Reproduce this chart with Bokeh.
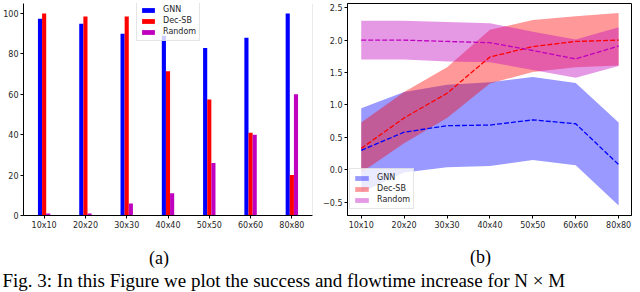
from bokeh.plotting import figure
from bokeh.models import (FactorRange, Range1d, FixedTicker, Label, Legend, LegendItem,
                          Span, CustomJSTickFormatter, ColumnDataSource)
from bokeh.layouts import row, column
from bokeh.transform import dodge
from bokeh.embed import file_html
from bokeh.resources import INLINE

# ---------------- data ----------------
categories = ["10x10", "20x20", "30x30", "40x40", "50x50", "60x60", "80x80"]

# (a) success rate bars
bar_gnn = [97.5, 95, 90, 89, 83, 88, 100]
bar_decsb = [100, 98.5, 98.5, 71.5, 57.5, 41, 20]
bar_random = [1, 1, 6, 11, 26, 40, 60]
yticks_a = [0, 20, 40, 60, 80, 100]

# (b) flowtime increase: mean and band
gnn_mean = [0.30, 0.58, 0.68, 0.69, 0.77, 0.71, 0.08]
gnn_lo = [-0.35, -0.04, 0.04, 0.06, 0.15, 0.07, -0.55]
gnn_hi = [0.95, 1.20, 1.31, 1.35, 1.43, 1.34, 0.73]

decsb_mean = [0.33, 0.80, 1.18, 1.74, 1.90, 1.98, 2.00]
decsb_lo = [-0.04, 0.41, 0.80, 1.33, 1.51, 1.58, 1.61]
decsb_hi = [0.73, 1.20, 1.58, 2.16, 2.31, 2.37, 2.42]

random_mean = [2.00, 2.00, 1.98, 1.96, 1.84, 1.71, 1.91]
random_lo = [1.70, 1.70, 1.67, 1.66, 1.54, 1.42, 1.60]
random_hi = [2.30, 2.30, 2.28, 2.26, 2.13, 2.01, 2.20]
yticks_b = [-0.5, 0.0, 0.5, 1.0, 1.5, 2.0, 2.5]

series_names = ["GNN", "Dec-SB", "Random"]
caption_a = "(a)"
caption_b = "(b)"
caption = "Fig. 3: In this Figure we plot the success and flowtime increase for N \u00d7 M"

BLUE, RED, MAG = "#0000ff", "#ff0000", "#bf00bf"
TXT = "#262626"
PAD = "\u2003"  # em space: nudges the centred sub-caption a little to the left


def style_axes(p):
    for ax in p.axis:
        ax.major_tick_out = 3
        ax.major_tick_in = 0
        ax.minor_tick_out = 0
        ax.minor_tick_in = 0
        ax.major_label_standoff = 2
        ax.major_label_text_font = "DejaVu Sans"
        ax.major_label_text_font_size = "8px"
        ax.major_label_text_color = TXT
        ax.axis_line_color = "black"
        ax.major_tick_line_color = "black"


def style_caption_axis(ax, text, standoff):
    ax.axis_label = text + PAD
    ax.axis_label_text_font = "Liberation Serif"
    ax.axis_label_text_font_size = "18px"
    ax.axis_label_text_font_style = "normal"
    ax.axis_label_text_color = "black"
    ax.axis_label_standoff = standoff


def style_legend(lg):
    lg.border_line_color = "#cccccc"
    lg.border_line_width = 1
    lg.background_fill_color = "white"
    lg.background_fill_alpha = 0.8
    lg.padding = 3
    lg.spacing = 0
    lg.margin = 0
    lg.label_height = 11
    lg.label_standoff = 7
    lg.glyph_width = 16
    lg.glyph_height = 6
    lg.label_text_font = "DejaVu Sans"
    lg.label_text_font_size = "8px"
    lg.label_text_color = TXT


# ---------------- (a) bars ----------------
pa = figure(x_range=FactorRange(*categories), y_range=Range1d(0, 105),
            width=320, height=270, output_backend="svg", toolbar_location=None,
            min_border_left=21, min_border_right=8, min_border_top=0, min_border_bottom=54)
pa.outline_line_color = None
pa.grid.visible = False
pa.background_fill_color = "white"

src_a = ColumnDataSource(dict(cat=categories, gnn=bar_gnn, dec=bar_decsb, rnd=bar_random))
ra1 = pa.vbar(x=dodge("cat", -0.1, range=pa.x_range), top="gnn", width=0.1, source=src_a,
              fill_color=BLUE, line_color=None)
ra2 = pa.vbar(x=dodge("cat", 0.0, range=pa.x_range), top="dec", width=0.1, source=src_a,
              fill_color=RED, line_color=None)
ra3 = pa.vbar(x=dodge("cat", 0.1, range=pa.x_range), top="rnd", width=0.1, source=src_a,
              fill_color=MAG, line_color=None)
pa.yaxis.ticker = FixedTicker(ticks=yticks_a)
style_axes(pa)
style_caption_axis(pa.xaxis[0], caption_a, 15)
pa.add_layout(Span(location=len(categories), dimension="height", line_color="#d6d6d6", line_width=1))

lga = Legend(items=[LegendItem(label=series_names[0], renderers=[ra1]),
                    LegendItem(label=series_names[1], renderers=[ra2]),
                    LegendItem(label=series_names[2], renderers=[ra3])],
             location=(113, 174))
style_legend(lga)
pa.add_layout(lga)

# ---------------- (b) bands ----------------
xs = list(range(len(categories)))
src_b = ColumnDataSource(dict(x=xs,
                              gm=gnn_mean, gl=gnn_lo, gh=gnn_hi,
                              dm=decsb_mean, dl=decsb_lo, dh=decsb_hi,
                              rm=random_mean, rl=random_lo, rh=random_hi))
pb = figure(x_range=Range1d(-0.32, 6.3), y_range=Range1d(-0.705, 2.565),
            width=320, height=270, output_backend="svg", toolbar_location=None,
            min_border_left=25, min_border_right=9, min_border_top=3, min_border_bottom=53)
pb.outline_line_color = "black"
pb.outline_line_width = 1
pb.grid.visible = False

vb1 = pb.varea(x="x", y1="gl", y2="gh", source=src_b, fill_color=BLUE, fill_alpha=0.4)
vb2 = pb.varea(x="x", y1="dl", y2="dh", source=src_b, fill_color=RED, fill_alpha=0.4)
vb3 = pb.varea(x="x", y1="rl", y2="rh", source=src_b, fill_color=MAG, fill_alpha=0.4)
pb.line(x="x", y="gm", source=src_b, line_color=BLUE, line_width=1.3, line_dash="5 2")
pb.line(x="x", y="dm", source=src_b, line_color=RED, line_width=1.3, line_dash="5 2")
pb.line(x="x", y="rm", source=src_b, line_color=MAG, line_width=1.3, line_dash="5 2")

pb.xaxis.ticker = FixedTicker(ticks=xs)
pb.xaxis.major_label_overrides = {i: c for i, c in enumerate(categories)}
pb.yaxis.ticker = FixedTicker(ticks=yticks_b)
pb.yaxis.formatter = CustomJSTickFormatter(
    code="return (tick < 0 ? '\\u2212' : '') + Math.abs(tick).toFixed(1);")
style_axes(pb)
style_caption_axis(pb.xaxis[0], caption_b, 14)

lgb = Legend(items=[LegendItem(label=series_names[0], renderers=[vb1]),
                    LegendItem(label=series_names[1], renderers=[vb2]),
                    LegendItem(label=series_names[2], renderers=[vb3])],
             location=(2, 6))
style_legend(lgb)
lgb.glyph_width = 17
pb.add_layout(lgb)

# ---------------- caption strip ----------------
pc = figure(width=640, height=22, x_range=Range1d(0, 1), y_range=Range1d(0, 1),
            output_backend="svg", toolbar_location=None,
            x_axis_location=None, y_axis_location=None, min_border=0)
pc.outline_line_color = None
pc.grid.visible = False
pc.add_layout(Label(x=2, y=12, x_units="screen", y_units="screen", text=caption,
                    text_font="Liberation Serif", text_font_size="19px",
                    text_baseline="alphabetic", text_color="black"))

layout = column(row(pa, pb), pc)
with open("out.html", "w", encoding="utf-8") as f:
    f.write(file_html(layout, INLINE))
